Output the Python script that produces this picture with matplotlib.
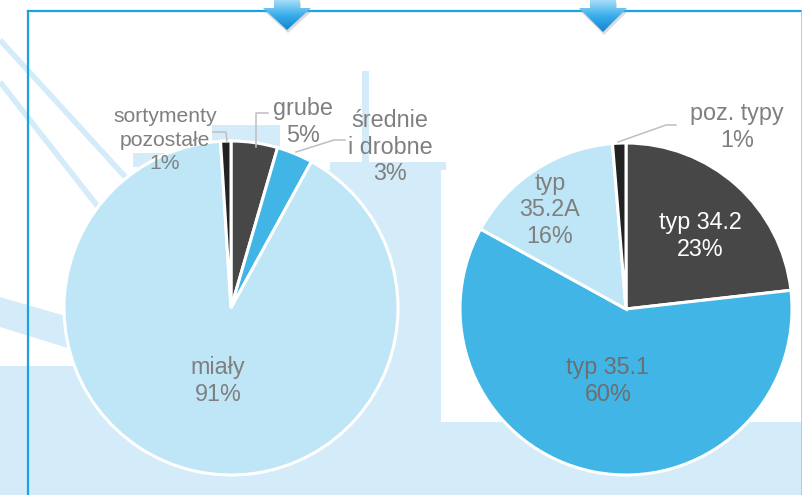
import matplotlib
matplotlib.use("Agg")
import matplotlib.pyplot as plt
import numpy as np
from matplotlib.patches import Polygon, Rectangle
from matplotlib.colors import LinearSegmentedColormap

plt.rcParams["font.family"] = ["Liberation Sans", "DejaVu Sans"]

W, H = 803, 495

# left pie: coal assortments
left_labels = ["grube", "średnie\ni drobne", "miały", "sortymenty\npozostałe"]
left_values = [4.5, 3.5, 91.0, 1.0]
left_pct = ["5%", "3%", "91%", "1%"]

# right pie: coal types
right_labels = ["typ 34.2", "typ 35.1", "typ\n35.2A", "poz. typy"]
right_values = [23.2, 59.8, 15.7, 1.3]
right_pct = ["23%", "60%", "16%", "1%"]

DARK = "#474747"
BLACK = "#222222"
BLUE = "#41B6E6"
LIGHT = "#BFE6F6"
BG = "#D4ECFA"
GRAY = "#7F7F7F"
LINE = "#BFBFBF"

left_colors = [DARK, BLUE, LIGHT, BLACK]
right_colors = [DARK, BLUE, LIGHT, BLACK]


def Y(y):
    # pixel row from top -> data y
    return H - y


fig = plt.figure(figsize=[W / 100, H / 100], dpi=100)
ax = fig.add_axes([0, 0, 1, 1])

# background decoration
bg_polys = [
    [(0, 297), (100, 326), (100, 358), (0, 327)],
    [(0, 366), (441, 366), (441, 495), (0, 495)],
    [(441, 422), (803, 422), (803, 495), (441, 495)],
    [(200, 170), (441, 170), (441, 366), (200, 366)],
    [(330, 162), (446, 162), (446, 170), (330, 170)],
    [(133, 153), (200, 153), (200, 167), (133, 167)],
    [(212, 125), (280, 125), (280, 160), (212, 160)],
    [(362, 71), (369, 71), (369, 162), (362, 162)],
]
for pts in bg_polys:
    ax.add_patch(Polygon([(x, Y(y)) for x, y in pts], closed=True,
                         facecolor=BG, edgecolor="none", zorder=0))
ax.plot([0, 140], [Y(40), Y(193)], color=BG, lw=4, solid_capstyle="butt", zorder=0)
ax.plot([0, 110], [Y(82), Y(222)], color=BG, lw=4, solid_capstyle="butt", zorder=0)

# pies
for vals, cols, cx, cy, r in [
    (left_values, left_colors, 231, 308, 167),
    (right_values, right_colors, 626, 309, 166),
]:
    wedges, _ = ax.pie(vals, colors=cols, startangle=90, counterclock=False,
                       center=(cx, Y(cy)), radius=r,
                       wedgeprops=dict(edgecolor="white", linewidth=2.2))
    for w in wedges:
        w.set_zorder(2)

# labels
fs = 16.8
left_pos = [(303, 122), (390, 147), (218, 381), (165, 140)]
for lab, pct, (x, y) in zip(left_labels, left_pct, left_pos):
    size = 15.2 if lab.startswith("sortymenty") else fs
    ax.text(x, Y(y), f"{lab}\n{pct}", ha="center", va="center", fontsize=size,
            color=GRAY, linespacing=1.2 if size == fs else 1.32, zorder=5)

right_pos = [(700, 236), (608, 381), (550, 210), (737, 127)]
right_text_colors = ["white", "#6E6E6E", GRAY, GRAY]
for lab, pct, (x, y), c in zip(right_labels, right_pct, right_pos, right_text_colors):
    ax.text(x, Y(y), f"{lab}\n{pct}", ha="center", va="center", fontsize=fs,
            color=c, linespacing=1.2, zorder=5)

# leader lines
leaders = [
    [(213, 132), (226, 132), (227, 142)],
    [(268, 113), (256, 113), (256, 147)],
    [(296, 152), (334, 140), (345, 140)],
    [(618, 142), (666, 125), (676, 125)],
]
for pts in leaders:
    xs, ys = zip(*pts)
    ax.plot(xs, [Y(v) for v in ys], color=LINE, lw=1.1, zorder=4)

# frame
ax.plot([28.5, 28.5], [Y(11), -5], color="#1AA3E2", lw=1.6, zorder=3)
ax.plot([28.5, W], [Y(11), Y(11)], color="#1AA3E2", lw=1.6, zorder=3)
ax.plot([801.8, 801.8], [Y(11), -5], color="#8ACFF0", lw=1.2, zorder=3)

# arrows at the top
cmap = LinearSegmentedColormap.from_list("arr", ["#A5DDFA", "#39AEEB", "#1584CF"])
grad = np.linspace(0, 1, 64).reshape(-1, 1)
for ax_c, tip in [(287, 30), (603, 32)]:
    pts = [(ax_c - 13, 0), (ax_c + 13, 0), (ax_c + 13, 8), (ax_c + 24, 8),
           (ax_c, tip), (ax_c - 24, 8), (ax_c - 13, 8)]
    shadow = Polygon([(x + 1, Y(y + 3)) for x, y in pts], closed=True,
                     facecolor="#9a9a9a", edgecolor="none", alpha=0.35, zorder=5)
    ax.add_patch(shadow)
    poly = Polygon([(x, Y(y)) for x, y in pts], closed=True,
                   facecolor="none", edgecolor="none", zorder=6)
    ax.add_patch(poly)
    im = ax.imshow(grad, cmap=cmap, extent=(ax_c - 24, ax_c + 24, Y(tip), Y(0)),
                   origin="upper", aspect="auto", zorder=6)
    im.set_clip_path(poly)

ax.set_xlim(0, W)
ax.set_ylim(0, H)
ax.set_aspect("equal")
ax.axis("off")

fig.savefig("out.png", dpi=100, facecolor="white")
